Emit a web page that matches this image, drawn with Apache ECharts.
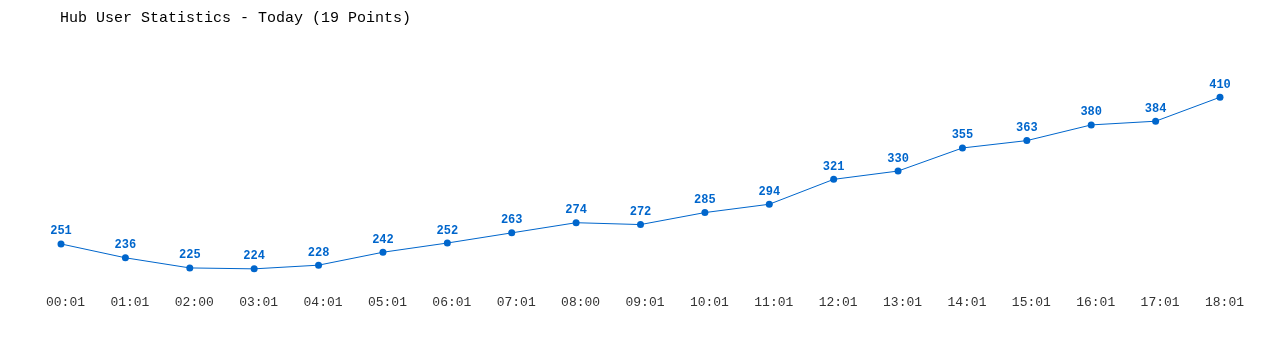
<!DOCTYPE html>
<html>
<head>
<meta charset="utf-8">
<script src="https://cdn.jsdelivr.net/npm/echarts@6/dist/echarts.min.js"></script>
<style>
html,body{margin:0;padding:0;background:#fff;}
#chart{width:1280px;height:350px;}
</style>
</head>
<body>
<div id="chart"></div>
<script>
const titleText = 'Hub User Statistics - Today (19 Points)';
const categories = ['00:01','01:01','02:00','03:01','04:01','05:01','06:01','07:01','08:00','09:01','10:01','11:01','12:01','13:01','14:01','15:01','16:01','17:01','18:01'];
const users = [251,236,225,224,228,242,252,263,274,272,285,294,321,330,355,363,380,384,410];

const chart = echarts.init(document.getElementById('chart'), null, {renderer:'canvas'});
chart.setOption({
  animation: false,
  backgroundColor: '#ffffff',
  title: {
    text: titleText,
    left: 55, top: 6,
    textStyle: {fontFamily: 'Liberation Mono', fontSize: 15, fontWeight: 'normal', color: '#000'}
  },
  grid: {left: 61, right: 60, top: 88, bottom: 59},
  xAxis: {
    type: 'category',
    data: categories,
    boundaryGap: false,
    axisLine: {show: false},
    axisTick: {show: false},
    axisLabel: {margin: 5, padding: [0, 0, 0, 9], fontFamily: 'Liberation Mono', fontSize: 13, color: '#333'}
  },
  yAxis: {
    type: 'value', min: 200, max: 420,
    show: false,
    splitLine: {show: false}
  },
  series: [{
    type: 'line',
    data: users,
    symbol: 'circle',
    symbolSize: 7,
    lineStyle: {color: '#0066cc', width: 1},
    itemStyle: {color: '#0066cc'},
    label: {show: true, position: 'top', distance: 3, fontFamily: 'Liberation Mono', fontSize: 12, fontWeight: 'bold', color: '#0066cc'}
  }]
});
</script>
</body>
</html>
